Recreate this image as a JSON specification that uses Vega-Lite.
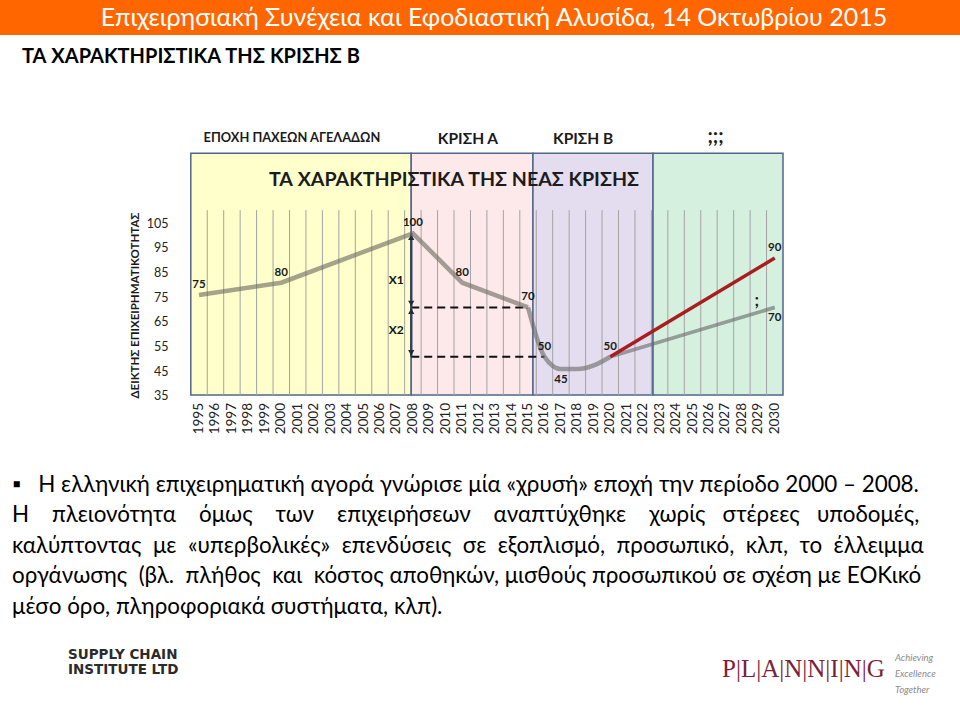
{
  "$schema": "https://vega.github.io/schema/vega-lite/v6.json",
  "background": "#ffffff",
  "padding": 0,
  "spacing": 38,
  "config": {"view": {"stroke": null}, "font": "Lato", "axis": {"labelFont": "Lato", "titleFont": "Lato"}},
  "datasets": {
    "header": [{"title": "Επιχειρησιακή Συνέχεια και Εφοδιαστική Αλυσίδα, 14 Οκτωβρίου 2015"}],
    "phases": [
      {"phase": "ΕΠΟΧΗ ΠΑΧΕΩΝ ΑΓΕΛΑΔΩΝ", "start": 1994.5, "end": 2007.9},
      {"phase": "ΚΡΙΣΗ Α", "start": 2007.9, "end": 2015.3},
      {"phase": "ΚΡΙΣΗ Β", "start": 2015.3, "end": 2022.6},
      {"phase": ";;;", "start": 2022.6, "end": 2030.5}
    ],
    "years": [
      {"year": 1995}, {"year": 1996}, {"year": 1997}, {"year": 1998}, {"year": 1999}, {"year": 2000},
      {"year": 2001}, {"year": 2002}, {"year": 2003}, {"year": 2004}, {"year": 2005}, {"year": 2006},
      {"year": 2007}, {"year": 2008}, {"year": 2009}, {"year": 2010}, {"year": 2011}, {"year": 2012},
      {"year": 2013}, {"year": 2014}, {"year": 2015}, {"year": 2016}, {"year": 2017}, {"year": 2018},
      {"year": 2019}, {"year": 2020}, {"year": 2021}, {"year": 2022}, {"year": 2023}, {"year": 2024},
      {"year": 2025}, {"year": 2026}, {"year": 2027}, {"year": 2028}, {"year": 2029}, {"year": 2030}
    ],
    "gridlines": [
      {"boundary": 1995.5}, {"boundary": 1996.5}, {"boundary": 1997.5}, {"boundary": 1998.5}, {"boundary": 1999.5},
      {"boundary": 2000.5}, {"boundary": 2001.5}, {"boundary": 2002.5}, {"boundary": 2003.5}, {"boundary": 2004.5},
      {"boundary": 2005.5}, {"boundary": 2006.5}, {"boundary": 2007.5}, {"boundary": 2008.5}, {"boundary": 2009.5},
      {"boundary": 2010.5}, {"boundary": 2011.5}, {"boundary": 2012.5}, {"boundary": 2013.5}, {"boundary": 2014.5},
      {"boundary": 2015.5}, {"boundary": 2016.5}, {"boundary": 2017.5}, {"boundary": 2018.5}, {"boundary": 2019.5},
      {"boundary": 2020.5}, {"boundary": 2021.5}, {"boundary": 2022.5}, {"boundary": 2023.5}, {"boundary": 2024.5},
      {"boundary": 2025.5}, {"boundary": 2026.5}, {"boundary": 2027.5}, {"boundary": 2028.5}, {"boundary": 2029.5}
    ],
    "annotations": [
      {"kind": "era", "label": "ΕΠΟΧΗ ΠΑΧΕΩΝ ΑΓΕΛΑΔΩΝ", "year": 2000.65, "value": 138.6},
      {"kind": "phase", "label": "ΚΡΙΣΗ Α", "year": 2011.35, "value": 138.4},
      {"kind": "phase", "label": "ΚΡΙΣΗ Β", "year": 2018.35, "value": 138.4},
      {"kind": "unknown", "label": ";;;", "year": 2026.4, "value": 139.2},
      {"kind": "heading", "label": "ΤΑ ΧΑΡΑΚΤΗΡΙΣΤΙΚΑ ΤΗΣ ΝΕΑΣ ΚΡΙΣΗΣ", "year": 2010.5, "value": 121.6},
      {"kind": "question", "label": ";", "year": 2028.9, "value": 72.7}
    ],
    "levels": [
      {"level": 70, "from": 2007.9, "to": 2015},
      {"level": 50, "from": 2007.9, "to": 2016}
    ],
    "gaps": [
      {"gap": "X1", "year": 2007.9, "top": 100, "bottom": 70},
      {"gap": "X2", "year": 2007.9, "top": 70, "bottom": 50}
    ],
    "index": [
      {"period": "1995-2015", "year": 1995, "value": 75, "label": "75"},
      {"period": "1995-2015", "year": 2000, "value": 80, "label": "80"},
      {"period": "1995-2015", "year": 2008, "value": 100, "label": "100"},
      {"period": "1995-2015", "year": 2011, "value": 80, "label": "80"},
      {"period": "1995-2015", "year": 2015, "value": 70, "label": "70"},
      {"period": "2015-2020", "year": 2015, "value": 70},
      {"period": "2015-2020", "year": 2016, "value": 50, "label": "50"},
      {"period": "2015-2020", "year": 2017, "value": 45, "label": "45"},
      {"period": "2015-2020", "year": 2018, "value": 45},
      {"period": "2015-2020", "year": 2019, "value": 46.5},
      {"period": "2015-2020", "year": 2020, "value": 50, "label": "50"},
      {"period": "σενάριο Α", "year": 2020, "value": 50},
      {"period": "σενάριο Α", "year": 2030, "value": 90, "label": "90"},
      {"period": "σενάριο Β", "year": 2020, "value": 50},
      {"period": "σενάριο Β", "year": 2030, "value": 70, "label": "70"}
    ],
    "logos": [
      {"org": "Supply Chain Institute", "text": "SUPPLY CHAIN\nINSTITUTE LTD"},
      {"org": "Planning", "text": "P|L|A|N|N|I|N|G"}
    ],
    "tagline": [
      {"org": "Planning", "text": "Achieving\nExcellence\nTogether"}
    ]
  },
  "vconcat": [
    {
      "spacing": 38,
      "vconcat": [
        {
          "width": 960,
          "height": 35,
          "view": {"fill": "#FF6600", "stroke": null},
          "title": {"text": "ΤΑ ΧΑΡΑΚΤΗΡΙΣΤΙΚΑ ΤΗΣ ΚΡΙΣΗΣ Β", "orient": "bottom", "anchor": "start", "frame": "group", "offset": 12, "dx": 22, "font": "Lato", "fontSize": 20, "fontWeight": "bold", "color": "#000000", "baseline": "top"},
          "data": {"name": "header"},
          "mark": {"type": "text", "color": "#ffffff", "font": "Lato", "fontSize": 25, "dx": 14},
          "encoding": {"text": {"field": "title"}}
        },
        {
          "width": 960,
          "height": 290,
          "layer": [
            {
              "data": {"name": "phases"},
              "mark": {"type": "rect", "stroke": "#50678a", "strokeWidth": 1.5},
              "encoding": {
                "x": {"field": "start", "type": "quantitative", "scale": {"domain": [1994.5, 2030.5], "range": [190.8, 783], "nice": false, "zero": false}, "axis": null},
                "x2": {"field": "end"},
                "y": {"datum": 34.5, "type": "quantitative", "scale": {"domain": [34.5, 152], "nice": false, "zero": false}},
                "y2": {"datum": 132.5},
                "color": {"field": "phase", "type": "nominal", "scale": {"domain": ["ΕΠΟΧΗ ΠΑΧΕΩΝ ΑΓΕΛΑΔΩΝ", "ΚΡΙΣΗ Α", "ΚΡΙΣΗ Β", ";;;"], "range": ["#FFFFCC", "#FDE9E9", "#E4DDF0", "#D6F0E0"]}, "legend": null}
              }
            },
            {
              "data": {"name": "gridlines"},
              "mark": {"type": "rule", "color": "#a3a3a3", "strokeWidth": 1},
              "encoding": {
                "x": {"field": "boundary", "type": "quantitative"},
                "y": {"datum": 34.5, "type": "quantitative"},
                "y2": {"datum": 109.4}
              }
            },
            {
              "data": {"name": "years"},
              "mark": {"type": "text", "angle": 270, "align": "right", "baseline": "middle", "fontSize": 13.5, "color": "#222222", "dx": -8},
              "encoding": {
                "x": {"field": "year", "type": "quantitative"},
                "y": {"datum": 34.5, "type": "quantitative"},
                "text": {"field": "year", "type": "quantitative", "format": "d"}
              }
            },
            {
              "data": {"name": "annotations"},
              "transform": [{"filter": "datum.kind == 'era'"}],
              "mark": {"type": "text", "fontWeight": "bold", "fontSize": 12.8, "color": "#1a1a1a"},
              "encoding": {
                "x": {"field": "year", "type": "quantitative"},
                "y": {"field": "value", "type": "quantitative"},
                "text": {"field": "label"}
              }
            },
            {
              "data": {"name": "annotations"},
              "transform": [{"filter": "datum.kind == 'phase'"}],
              "mark": {"type": "text", "fontWeight": "bold", "fontSize": 15.5, "color": "#1a1a1a"},
              "encoding": {
                "x": {"field": "year", "type": "quantitative"},
                "y": {"field": "value", "type": "quantitative"},
                "text": {"field": "label"}
              }
            },
            {
              "data": {"name": "annotations"},
              "transform": [{"filter": "datum.kind == 'unknown'"}],
              "mark": {"type": "text", "fontWeight": "bold", "fontSize": 20, "color": "#1a1a1a"},
              "encoding": {
                "x": {"field": "year", "type": "quantitative"},
                "y": {"field": "value", "type": "quantitative"},
                "text": {"field": "label"}
              }
            },
            {
              "data": {"name": "annotations"},
              "transform": [{"filter": "datum.kind == 'heading'"}],
              "mark": {"type": "text", "fontWeight": "bold", "fontSize": 19.6, "color": "#1c1c1c"},
              "encoding": {
                "x": {"field": "year", "type": "quantitative"},
                "y": {"field": "value", "type": "quantitative"},
                "text": {"field": "label"}
              }
            },
            {
              "data": {"name": "levels"},
              "mark": {"type": "rule", "color": "#111111", "strokeWidth": 2, "strokeDash": [8, 5]},
              "encoding": {
                "x": {"field": "from", "type": "quantitative"},
                "x2": {"field": "to"},
                "y": {"field": "level", "type": "quantitative"}
              }
            },
            {
              "data": {"name": "gaps"},
              "mark": {"type": "rule", "color": "#34435e", "strokeWidth": 2.5},
              "encoding": {
                "x": {"field": "year", "type": "quantitative"},
                "y": {"field": "top", "type": "quantitative"},
                "y2": {"field": "bottom"}
              }
            },
            {
              "data": {"name": "gaps"},
              "mark": {"type": "point", "shape": "triangle-up", "filled": true, "size": 40, "color": "#1f2a3c", "opacity": 1, "yOffset": 4},
              "encoding": {
                "x": {"field": "year", "type": "quantitative"},
                "y": {"field": "top", "type": "quantitative"}
              }
            },
            {
              "data": {"name": "gaps"},
              "mark": {"type": "point", "shape": "triangle-down", "filled": true, "size": 40, "color": "#1f2a3c", "opacity": 1, "yOffset": -4},
              "encoding": {
                "x": {"field": "year", "type": "quantitative"},
                "y": {"field": "bottom", "type": "quantitative"}
              }
            },
            {
              "data": {"name": "gaps"},
              "mark": {"type": "text", "fontWeight": "bold", "fontSize": 12, "color": "#111111", "dx": -15, "dy": -27},
              "encoding": {
                "x": {"field": "year", "type": "quantitative"},
                "y": {"field": "bottom", "type": "quantitative"},
                "text": {"field": "gap"}
              }
            },
            {
              "data": {"name": "index"},
              "transform": [{"filter": "datum.period == '1995-2015'"}],
              "mark": {"type": "line", "color": "#6e6b60", "opacity": 0.62, "strokeWidth": 4.5, "interpolate": "linear"},
              "encoding": {
                "x": {"field": "year", "type": "quantitative", "scale": {"domain": [1994.5, 2030.5], "range": [190.8, 783], "nice": false, "zero": false}},
                "y": {"field": "value", "type": "quantitative", "scale": {"domain": [34.5, 152], "nice": false, "zero": false},
                      "axis": {"values": [35, 45, 55, 65, 75, 85, 95, 105], "offset": -172, "labelPadding": 4, "labelOffset": 2, "labelFontSize": 12.5, "labelColor": "#222222", "ticks": false, "domain": false, "grid": false, "labelOverlap": false, "labelFlush": false,
                               "title": "ΔΕΙΚΤΗΣ ΕΠΙΧΕΙΡΗΜΑΤΙΚΟΤΗΤΑΣ", "titleFontSize": 11.5, "titleFontWeight": "bold", "titleColor": "#1a1a1a", "titleX": -37, "titleY": 200, "titleBaseline": "middle", "titleAngle": -90}}
              }
            },
            {
              "data": {"name": "index"},
              "transform": [{"filter": "datum.period == '2015-2020'"}],
              "mark": {"type": "line", "color": "#6b6b6b", "opacity": 0.62, "strokeWidth": 4.5, "interpolate": "monotone"},
              "encoding": {
                "x": {"field": "year", "type": "quantitative"},
                "y": {"field": "value", "type": "quantitative"}
              }
            },
            {
              "data": {"name": "index"},
              "transform": [{"filter": "datum.period == 'σενάριο Β'"}],
              "mark": {"type": "line", "color": "#6b6b6b", "opacity": 0.62, "strokeWidth": 3.8},
              "encoding": {
                "x": {"field": "year", "type": "quantitative"},
                "y": {"field": "value", "type": "quantitative"}
              }
            },
            {
              "data": {"name": "index"},
              "transform": [{"filter": "datum.period == 'σενάριο Α'"}],
              "mark": {"type": "line", "color": "#A81E1E", "strokeWidth": 3.5},
              "encoding": {
                "x": {"field": "year", "type": "quantitative"},
                "y": {"field": "value", "type": "quantitative"}
              }
            },
            {
              "data": {"name": "index"},
              "transform": [{"filter": "isValid(datum.label) && datum.year != 2017 && datum.period != 'σενάριο Β'"}],
              "mark": {"type": "text", "fontWeight": "bold", "fontSize": 11.5, "color": "#1a1a1a", "dy": -10},
              "encoding": {
                "x": {"field": "year", "type": "quantitative"},
                "y": {"field": "value", "type": "quantitative"},
                "text": {"field": "label"}
              }
            },
            {
              "data": {"name": "index"},
              "transform": [{"filter": "isValid(datum.label) && (datum.year == 2017 || datum.period == 'σενάριο Β')"}],
              "mark": {"type": "text", "fontWeight": "bold", "fontSize": 11.5, "color": "#1a1a1a", "dy": 11},
              "encoding": {
                "x": {"field": "year", "type": "quantitative"},
                "y": {"field": "value", "type": "quantitative"},
                "text": {"field": "label"}
              }
            },
            {
              "data": {"name": "annotations"},
              "transform": [{"filter": "datum.kind == 'question'"}],
              "mark": {"type": "text", "fontWeight": "bold", "fontSize": 17, "color": "#1a1a1a"},
              "encoding": {
                "x": {"field": "year", "type": "quantitative"},
                "y": {"field": "value", "type": "quantitative"},
                "text": {"field": "label"}
              }
            }
          ]
        }
      ]
    },
    {
      "width": 960,
      "height": 86,
      "title": {
        "text": [
          "▪\u00a0\u00a0\u00a0Η ελληνική επιχειρηματική αγορά γνώρισε μία «χρυσή» εποχή την περίοδο 2000 – 2008.",
          "\u2003\u00a0Η \u00a0\u00a0\u00a0πλειονότητα \u00a0\u00a0\u00a0όμως \u00a0\u00a0\u00a0των \u00a0\u00a0\u00a0επιχειρήσεων \u00a0\u00a0\u00a0αναπτύχθηκε \u00a0\u00a0\u00a0χωρίς \u00a0\u00a0στέρεες \u00a0\u00a0υποδομές,",
          "\u2003\u00a0καλύπτοντας \u00a0με \u00a0«υπερβολικές» \u00a0επενδύσεις \u00a0σε \u00a0εξοπλισμό, \u00a0προσωπικό, \u00a0κλπ, \u00a0το \u00a0έλλειμμα",
          "\u2003\u00a0οργάνωσης \u00a0(βλ. \u00a0πλήθος \u00a0και \u00a0κόστος αποθηκών, μισθούς προσωπικού σε σχέση με ΕΟΚικό",
          "\u2003\u00a0μέσο όρο, πληροφοριακά συστήματα, κλπ)."
        ],
        "orient": "top", "anchor": "start", "frame": "group", "dx": 12, "offset": 6,
        "font": "Lato", "fontSize": 22.4, "fontWeight": "normal", "lineHeight": 30.5, "color": "#000000"
      },
      "layer": [
        {
          "data": {"name": "logos"},
          "transform": [{"filter": "datum.org == 'Supply Chain Institute'"}],
          "mark": {"type": "text", "align": "left", "font": "DejaVu Sans", "fontWeight": "bold", "fontSize": 13.5, "lineHeight": 15, "lineBreak": "\n", "color": "#2b2b2b", "dy": -12},
          "encoding": {
            "x": {"field": "org", "type": "nominal", "scale": {"domain": ["Supply Chain Institute", "Planning"], "range": [68, 722], "padding": 0}, "axis": null},
            "text": {"field": "text"}
          }
        },
        {
          "data": {"name": "logos"},
          "transform": [{"filter": "datum.org == 'Planning'"}],
          "mark": {"type": "text", "align": "left", "font": "Liberation Serif, DejaVu Serif", "fontSize": 25, "color": "#7d1f3a", "dy": 2},
          "encoding": {
            "x": {"field": "org", "type": "nominal", "scale": {"domain": ["Supply Chain Institute", "Planning"], "range": [68, 722], "padding": 0}, "axis": null},
            "text": {"field": "text"}
          }
        },
        {
          "data": {"name": "tagline"},
          "mark": {"type": "text", "align": "left", "fontStyle": "italic", "fontSize": 9.5, "lineHeight": 16, "lineBreak": "\n", "color": "#8a8a8a", "dx": 173, "dy": -9},
          "encoding": {
            "x": {"field": "org", "type": "nominal", "scale": {"domain": ["Supply Chain Institute", "Planning"], "range": [68, 722], "padding": 0}, "axis": null},
            "text": {"field": "text"}
          }
        }
      ]
    }
  ]
}
